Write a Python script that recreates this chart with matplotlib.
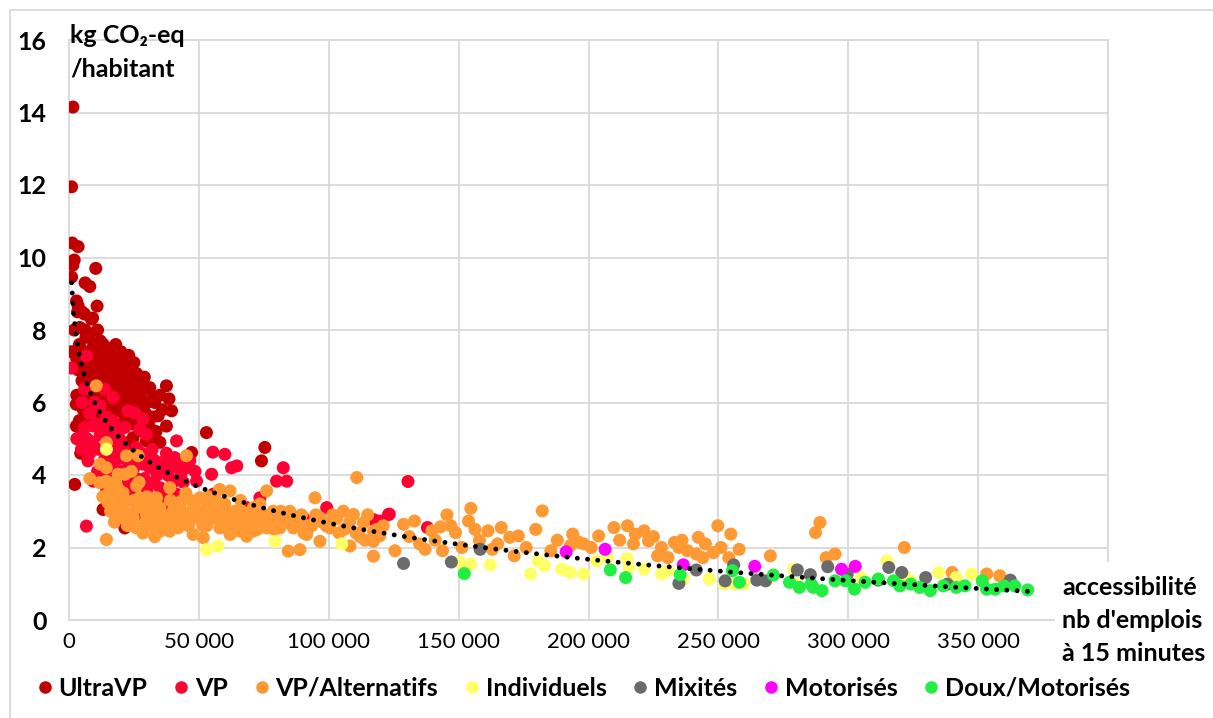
import matplotlib.pyplot as plt
from matplotlib.lines import Line2D
from matplotlib.patches import Rectangle
import numpy as np

plt.rcParams['font.family'] = ['Lato', 'DejaVu Sans']

# accessibilité (nb d'emplois à 15 minutes) / kg CO2-eq par habitant, par groupe
ultravp = [(1500, 14.15), (1000, 11.95), (1200, 10.4), (3500, 10.3), (2000, 9.93), (1500, 9.79),
           (10300, 9.7), (1000, 9.46), (6200, 9.3), (8000, 9.2), (2900, 8.8), (10800, 8.66),
           (3300, 8.5), (5000, 8.5), (9100, 8.33), (2000, 8.0), (6200, 8.0), (1000, 7.4),
           (3500, 8.67), (6000, 8.44), (8600, 8.3), (4100, 8.07), (13100, 7.61), (17000, 7.52),
           (10500, 7.43), (8000, 7.15), (14400, 7.1), (20800, 7.1), (24000, 6.92), (11800, 6.88),
           (27200, 6.6), (31100, 6.41), (32400, 6.14), (37500, 6.46), (39500, 5.77), (34300, 5.63),
           (37500, 5.35), (28500, 5.86), (22100, 6.05), (17000, 6.41), (14400, 6.14), (9300, 6.32),
           (2800, 5.95), (6700, 5.86), (2800, 5.35), (5400, 5.12), (10500, 5.68), (19500, 5.77),
           (26000, 5.59), (52900, 5.17), (35000, 4.9), (47200, 4.62), (75400, 4.76), (74100, 4.39),
           (2200, 3.74), (13100, 3.05), (21500, 2.54), (29800, 4.94), (27200, 4.57), (22100, 6.69),
           (15700, 6.97), (26000, 6.23), (31100, 5.31), (24700, 5.03), (4000, 7.6), (5500, 7.0),
           (7000, 7.4), (8500, 6.8), (9500, 7.6), (11000, 7.2), (12500, 6.8), (14000, 7.0),
           (15500, 7.3), (17500, 6.8), (19000, 7.1), (21000, 6.6), (23000, 7.0), (24500, 6.5),
           (26000, 6.8), (28000, 6.3), (30000, 6.0), (32000, 5.6), (13000, 6.2), (16000, 5.8),
           (19000, 6.2), (21500, 5.5), (24000, 5.9), (27000, 5.4), (12000, 5.5), (10000, 6.6),
           (7500, 6.1), (5000, 6.6), (3500, 6.9), (6500, 7.8), (8000, 7.9), (11000, 8.0),
           (18000, 5.2), (15000, 5.1), (3000, 6.2), (4000, 5.5), (20000, 7.4), (23000, 7.3),
           (18000, 7.6), (12000, 7.7), (25000, 7.1), (29000, 6.7), (33000, 6.0), (35000, 6.2),
           (7000, 6.9), (9000, 5.4), (6000, 4.8), (4500, 4.6), (16000, 4.5), (23000, 4.9),
           (32000, 4.4), (3000, 7.2), (4500, 7.3), (6000, 7.2), (7500, 7.0), (9000, 7.1),
           (10500, 7.0), (12000, 7.2), (13500, 7.3), (16500, 7.0), (18500, 7.3), (20000, 6.9),
           (22000, 6.8), (9500, 6.5), (11500, 6.4), (13000, 6.6), (15000, 6.6), (16500, 6.2),
           (18500, 6.5), (20500, 6.3), (23000, 6.4), (25000, 6.2), (27500, 6.0), (29500, 5.7),
           (11000, 6.0), (13500, 5.8), (17500, 5.9), (20500, 5.9), (22500, 5.6), (25000, 5.4),
           (28500, 5.2), (31000, 5.0), (33500, 5.2), (8000, 6.5), (6500, 6.5), (4500, 6.2),
           (5500, 5.8), (7000, 5.5), (9500, 5.9), (14000, 5.3), (16500, 5.5), (19500, 5.4),
           (36000, 5.8), (38500, 6.1)]

vp = [(1000, 6.95), (6800, 7.28), (6000, 6.37), (13700, 6.37), (17000, 6.14), (25300, 5.72),
      (9300, 5.35), (4100, 5.03), (4800, 4.71), (13100, 5.26), (17000, 5.49), (21500, 5.31),
      (27200, 5.26), (29800, 5.12), (41400, 4.94), (26000, 4.76), (20800, 4.48), (17000, 4.66),
      (7300, 4.39), (9300, 3.83), (6700, 2.59), (22100, 4.02), (31100, 4.2), (36900, 4.39),
      (40700, 4.48), (45200, 4.2), (60000, 4.57), (62600, 4.2), (54900, 4.02), (49100, 3.83),
      (82500, 4.2), (79900, 3.83), (83800, 3.83), (35000, 3.65), (41400, 3.47), (24700, 3.65),
      (29800, 3.2), (37500, 3.1), (18900, 3.1), (18300, 2.91), (26000, 2.91), (55500, 3.47),
      (73500, 3.37), (68400, 3.1), (90200, 2.82), (99200, 3.1), (117200, 2.77), (123000, 2.91),
      (15700, 4.98), (11200, 4.71), (28500, 5.54), (22700, 5.77), (130500, 3.82), (123300, 2.92),
      (138000, 2.55), (119600, 2.73), (10000, 6.0), (12000, 5.9), (14500, 5.6), (18500, 5.3),
      (20000, 4.9), (23500, 4.6), (25000, 4.2), (28000, 4.6), (32000, 4.7), (34000, 4.0),
      (38000, 4.0), (42000, 4.3), (44000, 3.8), (36000, 3.4), (30000, 3.6), (11000, 4.1),
      (8000, 4.6), (6000, 5.3), (13500, 4.4), (16000, 4.1), (19000, 3.9), (22000, 3.5),
      (27000, 3.3), (31000, 2.9), (14500, 3.6), (55400, 4.63), (64600, 4.25), (3000, 5.0),
      (5000, 6.0), (8000, 5.7), (7000, 5.0), (9000, 4.9), (10500, 5.4), (12000, 5.1),
      (13000, 4.7), (14500, 4.9), (16500, 5.0), (18000, 4.8), (19500, 5.0), (21000, 4.7),
      (22500, 4.4), (24000, 4.5), (26500, 4.4), (28500, 4.3), (30000, 4.5), (33000, 4.4),
      (35500, 4.2), (37500, 4.6), (39000, 4.2), (43000, 4.0), (46500, 4.4), (48500, 4.1),
      (12500, 3.9), (14500, 4.2), (17500, 4.3), (20500, 4.1), (23000, 3.8), (26000, 3.9),
      (29000, 3.9), (32500, 3.8), (40000, 3.8), (33500, 3.3), (24000, 3.4), (20000, 3.3)]

vp_alternatifs = [(10500, 6.46), (14400, 4.89), (22100, 4.53), (26600, 4.53), (45200, 4.53),
                  (14400, 4.2), (18900, 4.02), (21500, 4.02), (14400, 3.83), (15700, 3.6),
                  (20800, 3.51), (26000, 3.7), (27200, 3.37), (22100, 3.28), (15000, 3.24),
                  (38800, 3.65), (43300, 3.28), (33700, 3.37), (35000, 3.1), (29800, 2.91),
                  (20800, 2.82), (24700, 2.82), (26000, 2.54), (35000, 2.73), (35000, 2.45),
                  (38800, 2.45), (42000, 2.54), (45200, 2.91), (49100, 2.82), (52900, 3.1),
                  (55500, 2.82), (50400, 3.37), (56800, 3.28), (62000, 3.56), (58100, 2.54),
                  (63600, 2.82), (65800, 2.45), (69700, 2.82), (70900, 2.45), (76100, 3.56),
                  (78600, 3.0), (81200, 2.54), (86400, 2.54), (76100, 2.54), (94700, 3.37),
                  (96600, 2.82), (91500, 2.36), (96600, 2.17), (88900, 1.94), (84400, 1.9),
                  (105600, 3.0), (110800, 3.93), (109500, 2.91), (113300, 2.68), (117200, 2.45),
                  (117200, 2.17), (108200, 2.04), (117200, 1.76), (100500, 2.54), (14400, 2.22),
                  (11800, 3.79), (17000, 3.47), (47800, 2.36), (51700, 2.27), (62000, 2.36),
                  (68400, 2.31), (26000, 3.1), (19500, 2.91), (119600, 2.32), (125500, 1.91),
                  (128800, 2.64), (133000, 2.73), (139700, 2.46), (143000, 2.57), (145500, 2.9),
                  (137100, 1.95), (143800, 1.91), (148800, 2.41), (151300, 2.0), (154700, 3.08),
                  (153800, 2.73), (156300, 2.5), (161300, 2.46), (163000, 1.95), (166400, 2.55),
                  (169700, 2.28), (173000, 2.32), (171400, 1.77), (179700, 2.5), (182200, 3.01),
                  (185500, 1.91), (193900, 2.37), (198100, 2.1), (203900, 2.32), (209800, 2.55),
                  (218100, 2.37), (221400, 2.46), (223100, 2.18), (217300, 2.1), (228100, 2.0),
                  (233100, 2.14), (238100, 1.91), (241500, 1.82), (242300, 2.28), (248100, 1.86),
                  (249800, 2.6), (254800, 2.37), (254000, 1.72), (258000, 1.95), (270000, 1.77),
                  (287400, 2.41), (289100, 2.69), (291500, 1.72), (294900, 1.82), (321600, 2.0),
                  (340000, 1.31), (353300, 1.27), (358300, 1.22), (193000, 2.05), (196400, 2.14),
                  (234800, 2.0), (244000, 1.72), (230600, 1.72), (226600, 1.77), (40000, 3.0),
                  (44000, 2.7), (48000, 3.1), (53000, 2.6), (57000, 3.0), (60000, 2.7),
                  (64000, 3.0), (67000, 2.6), (72000, 2.9), (74000, 2.7), (80000, 2.8),
                  (85000, 3.0), (88000, 2.7), (92000, 2.6), (95000, 2.9), (99000, 2.6),
                  (103000, 2.8), (106000, 2.5), (112000, 2.3), (115000, 2.9), (60000, 3.2),
                  (66000, 3.3), (71000, 3.1), (32000, 2.6), (30000, 3.4), (18000, 3.8),
                  (24000, 4.1), (12000, 4.3), (8000, 3.9), (16500, 3.7), (18500, 3.2),
                  (21000, 3.0), (23000, 2.9), (25000, 3.3), (28000, 3.1), (29500, 2.7),
                  (31500, 3.1), (33000, 2.9), (36500, 2.9), (37500, 2.7), (40500, 2.8),
                  (41500, 3.2), (43500, 3.0), (46000, 2.6), (47000, 3.3), (50000, 2.9),
                  (51500, 2.6), (54000, 2.9), (55500, 3.1), (58500, 2.8), (59000, 3.0),
                  (61500, 2.5), (62500, 2.9), (65000, 2.7), (66500, 3.0), (68000, 2.9),
                  (70000, 2.7), (72500, 2.5), (73500, 3.2), (75000, 2.9), (77500, 2.7),
                  (79000, 2.5), (81500, 3.0), (83000, 2.7), (86000, 2.8), (89500, 2.9),
                  (90500, 2.4), (93500, 2.6), (97500, 2.7), (101500, 2.9), (104000, 2.4),
                  (108000, 2.7), (110500, 2.4), (114000, 2.2), (118500, 2.5), (121000, 2.6),
                  (39000, 3.3), (45000, 3.5), (27000, 3.8), (19000, 3.6), (13000, 3.4),
                  (16000, 3.0), (17500, 2.7), (22500, 2.6), (28500, 2.4), (33000, 2.3),
                  (53500, 3.4), (58000, 3.6), (131000, 2.3), (135000, 2.1), (141000, 2.2),
                  (147000, 2.6), (158000, 2.2), (165000, 2.1), (176000, 2.0), (188000, 2.2),
                  (201000, 2.0), (212000, 2.2), (215000, 2.6), (225000, 2.3), (236000, 2.2),
                  (245000, 2.1), (251000, 2.0)]

individuels = [(14400, 4.71), (52900, 1.94), (57400, 2.04), (79300, 2.17), (105000, 2.1),
               (150500, 1.59), (154700, 1.54), (162200, 1.52), (177700, 1.27), (180600, 1.63),
               (183000, 1.5), (189700, 1.4), (193000, 1.31), (198100, 1.27), (203100, 1.63),
               (207200, 1.72), (214800, 1.7), (215600, 1.45), (221400, 1.4), (228100, 1.27),
               (230600, 1.36), (236500, 1.13), (246500, 1.13), (252300, 0.99), (256500, 0.99),
               (259800, 0.99), (279000, 1.4), (279800, 0.99), (314900, 1.63), (334900, 1.31),
               (341600, 1.17), (347500, 1.27), (321600, 1.22), (324100, 1.08), (304900, 1.17)]

mixites = [(128800, 1.56), (147200, 1.6), (158300, 1.95), (234800, 1.01), (241500, 1.38),
           (252600, 1.08), (255900, 1.52), (264800, 1.1), (268200, 1.08), (280400, 1.38),
           (285400, 1.25), (292100, 1.47), (299600, 1.27), (311500, 1.1), (315600, 1.45),
           (320600, 1.31), (329800, 1.17), (338200, 0.99), (362400, 1.1)]

motorises = [(191400, 1.88), (206400, 1.95), (236500, 1.52), (264000, 1.48), (297400, 1.4),
             (302700, 1.48)]

doux_motorises = [(152200, 1.28), (208400, 1.38), (214300, 1.17), (235300, 1.25), (255400, 1.36),
                  (258100, 1.04), (271200, 1.24), (277400, 1.04), (281200, 0.9), (285700, 0.99),
                  (289900, 0.81), (294900, 1.08), (299000, 1.08), (302400, 0.85), (306500, 1.04),
                  (311600, 1.13), (317400, 1.08), (319900, 0.94), (324100, 0.99), (331600, 0.81),
                  (336600, 0.94), (341600, 0.9), (344900, 0.94), (351600, 1.08), (353300, 0.85),
                  (356600, 0.85), (359900, 0.94), (364100, 0.94), (369100, 0.83), (327500, 0.9),
                  (286500, 0.9)]

group_names = ['UltraVP', 'VP', 'VP/Alternatifs', 'Individuels', 'Mixités', 'Motorisés',
               'Doux/Motorisés']
group_data = [ultravp, vp, vp_alternatifs, individuels, mixites, motorises, doux_motorises]
group_colors = ['#C00000', '#FF0033', '#FF9933', '#FFFF66', '#6B6B6B', '#FF00FF', '#22EE44']

# courbe de tendance logarithmique : y = a + b ln(x)
trend_a = 19.25
trend_b = -1.44
trend_x = [1000, 369100]

x_ticks = [0, 50000, 100000, 150000, 200000, 250000, 300000, 350000, 400000]
x_tick_labels = ['0', '50 000', '100 000', '150 000', '200 000', '250 000', '300 000',
                 '350 000', '']
y_ticks = [0, 2, 4, 6, 8, 10, 12, 14, 16]

fig = plt.figure(figsize=(12.13, 7.18), dpi=100)
ax = fig.add_axes([69 / 1213, 1 - 620 / 718, 1039 / 1213, 580 / 718])

for name, pts, col in zip(group_names, group_data, group_colors):
    arr = np.array(pts)
    ax.scatter(arr[:, 0], arr[:, 1], s=88, color=col, edgecolors='none', label=name, zorder=3)

tx = np.linspace(trend_x[0], trend_x[1], 600)
ax.plot(tx, trend_a + trend_b * np.log(tx), color='black', lw=3.5,
        linestyle=(0, (0.01, 2.1)), dash_capstyle='round', zorder=4)

ax.set_xlim(0, 400000)
ax.set_ylim(0, 16)
ax.set_xticks(x_ticks, labels=x_tick_labels, fontsize=16)
ax.set_yticks(y_ticks, labels=[str(v) for v in y_ticks], fontsize=18, fontweight='bold')
ax.tick_params(axis='both', length=0)
ax.tick_params(axis='y', pad=16)
ax.tick_params(axis='x', pad=9)
ax.grid(color='#D9D9D9', lw=1.3)
ax.set_axisbelow(True)
for sp in ax.spines.values():
    sp.set_color('#D9D9D9')
    sp.set_linewidth(1.3)

fig.text(70 / 1213, 1 - 24 / 718, 'kg CO₂-eq\n/habitant', fontsize=18, fontweight='bold',
         ha='left', va='top', linespacing=1.55)

fig.patches.append(Rectangle((1055 / 1213, 1 - 668 / 718), 158 / 1213, 106 / 718,
                             transform=fig.transFigure, facecolor='white', edgecolor='none',
                             zorder=5))
fig.text(1062 / 1213, 1 - 576 / 718, "accessibilité\nnb d'emplois\nà 15 minutes", fontsize=18,
         fontweight='bold', ha='left', va='top', linespacing=1.52, zorder=6)

# cadre du graphique
fig.add_artist(Line2D([10 / 1213, 10 / 1213], [0, 1 - 10 / 718], transform=fig.transFigure,
                      color='#D9D9D9', lw=1.3))
fig.add_artist(Line2D([10 / 1213, 1], [1 - 10 / 718, 1 - 10 / 718], transform=fig.transFigure,
                      color='#D9D9D9', lw=1.3))

handles = [Line2D([], [], marker='o', ls='', color=c, markersize=8) for c in group_colors]
fig.legend(handles, group_names, loc='center', bbox_to_anchor=(583 / 1213, 1 - 688 / 718),
           ncol=7, frameon=False, prop={'weight': 'bold', 'size': 18}, handletextpad=0.2,
           columnspacing=1.0, handlelength=0.7)

fig.savefig('out.png', dpi=100)
